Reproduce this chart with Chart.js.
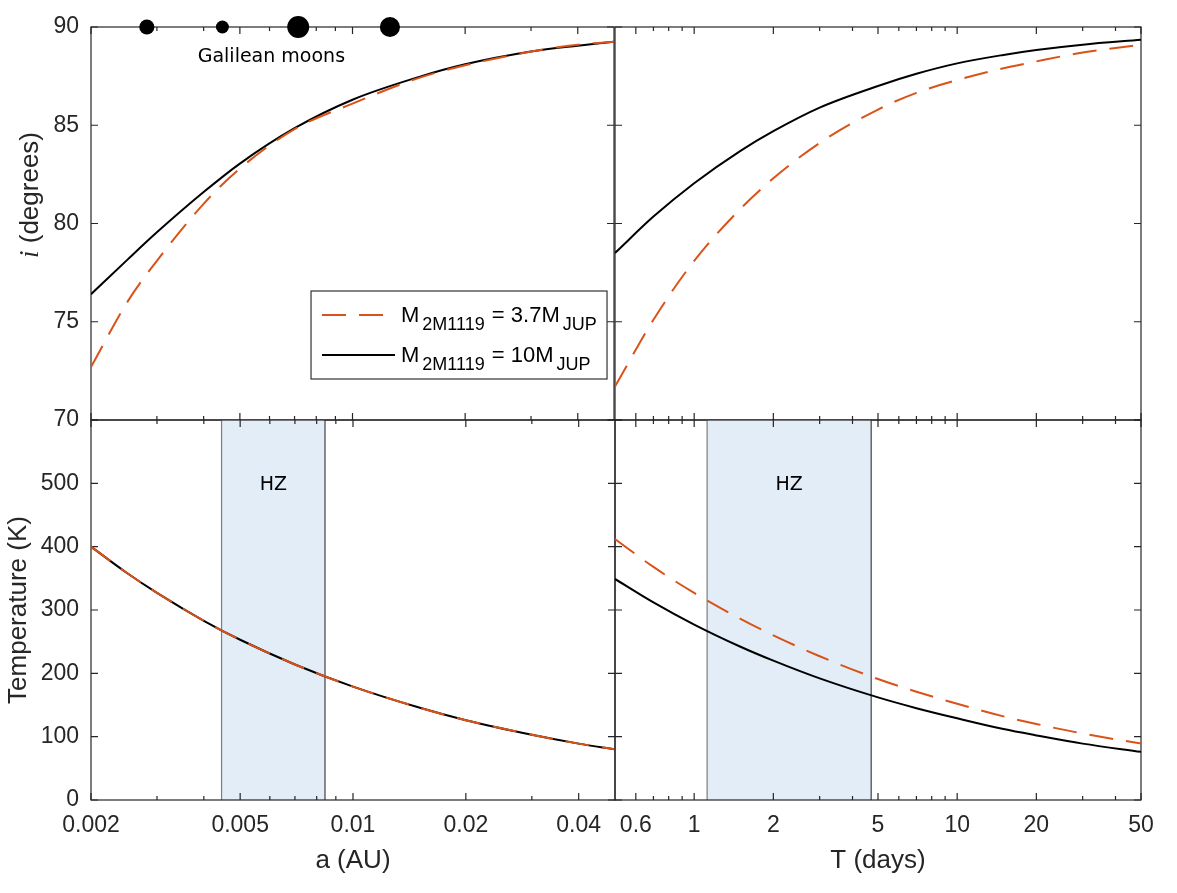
<!DOCTYPE html>
<html>
<head>
<meta charset="utf-8">
<title>2M1119 inclination and temperature</title>
<script src="https://cdn.jsdelivr.net/npm/chart.js@4.4.1/dist/chart.umd.min.js"></script>
<style>
  html, body { margin: 0; padding: 0; background: #fff; }
  #fig { position: relative; width: 1177px; height: 893px; overflow: hidden; }
  #fig canvas { position: absolute; }
</style>
</head>
<body>
<div id="fig">
  <canvas id="inc-a" width="625" height="450" style="left:0px;top:0px"></canvas>
  <canvas id="inc-t" width="572" height="430" style="left:605px;top:0px"></canvas>
  <canvas id="temp-a" width="625" height="503" style="left:0px;top:390px"></canvas>
  <canvas id="temp-t" width="572" height="503" style="left:605px;top:390px"></canvas>
</div>
<script>
// ---- datos ----
const aAU = [0.002, 0.0025, 0.003, 0.004, 0.005, 0.007, 0.01, 0.015, 0.02, 0.03, 0.04, 0.05];
const incA_37 = [72.7, 76.0, 78.1, 81.0, 82.8, 84.8, 86.1, 87.4, 88.05, 88.75, 89.1, 89.25];
const incA_10 = [76.4, 78.15, 79.55, 81.6, 83.05, 84.85, 86.3, 87.45, 88.1, 88.75, 89.05, 89.25];
const tempA_37 = [400, 358, 327, 283, 253, 214, 179, 146, 126, 103, 89, 80];
const tempA_10 = [400, 358, 327, 283, 253, 214, 179, 146, 126, 103, 89, 80];

const periodDays = [0.5, 0.7, 1, 1.5, 2, 3, 5, 7, 10, 15, 20, 30, 50];
const incT_37 = [71.7, 75.1, 78.1, 80.75, 82.3, 84.1, 85.8, 86.65, 87.3, 87.9, 88.25, 88.7, 89.1];
const incT_10 = [78.5, 80.35, 82.05, 83.7, 84.7, 85.9, 87.0, 87.62, 88.15, 88.58, 88.83, 89.1, 89.35];
const tempT_37 = [412, 368, 327, 286, 260, 227, 191, 171, 152, 132, 120, 105, 89];
const tempT_10 = [349, 312, 277, 242, 220, 192, 162, 145, 129, 112, 102, 89, 76];

// lunas galileanas (a en UA, radio en km)
const moonNames = ['Io', 'Europa', 'Ganymede', 'Callisto'];
const moonA = [0.00282, 0.00449, 0.00716, 0.01259];
const moonRadiusKm = [1822, 1561, 2634, 2410];

// zona habitable
const hzA = [0.00446, 0.00842];
const hzT = [1.12, 4.71];

// ticks
const aTickLabels = [0.002, 0.005, 0.01, 0.02, 0.04];
const aMinorTicks = [0.003, 0.004, 0.006, 0.007, 0.008, 0.009, 0.03];
const tTickLabels = [0.6, 1, 2, 5, 10, 20, 50];
const tMinorTicks = [0.7, 0.8, 0.9, 3, 4, 6, 7, 8, 9, 30, 40];
const incTicks = [70, 75, 80, 85, 90];
const tempTicks = [0, 100, 200, 300, 400, 500, 600];

const seriesLabels = ['M2M1119 = 3.7MJUP', 'M2M1119 = 10MJUP'];

// ---- estilos ----
const SANS = "'Liberation Sans', Arial, Helvetica, sans-serif";
const NOTE = "'DejaVu Sans', Verdana, sans-serif";
const AXIS = '#262626';
const RED = '#D95319';
const DASH = [24, 13];

function vline(ctx, px, y0, y1) {
    ctx.beginPath();
    ctx.moveTo(px, y0);
    ctx.lineTo(px, y1);
    ctx.stroke();
}

// Marco, ticks hacia dentro, banda HZ y anotaciones
const panelDecor = {
    id: 'panelDecor',
    beforeDatasetsDraw(chart, args, opts) {
        const { ctx, chartArea: area, scales: { x, y } } = chart;
        ctx.save();
        if (opts.band) {
            const x0 = x.getPixelForValue(opts.band[0]);
            const x1 = x.getPixelForValue(opts.band[1]);
            ctx.fillStyle = '#e3edf7';
            ctx.fillRect(x0, area.top, x1 - x0, area.bottom - area.top);
            ctx.lineWidth = 1.2;
            ctx.strokeStyle = '#7d7d7d';
            vline(ctx, x0, area.top, area.bottom);
            ctx.strokeStyle = '#404040';
            vline(ctx, x1, area.top, area.bottom);
        }
        ctx.strokeStyle = AXIS;
        ctx.lineWidth = 1.2;
        ctx.strokeRect(area.left, area.top, area.right - area.left, area.bottom - area.top);

        ctx.beginPath();
        const xTick = (v, len) => {
            const px = x.getPixelForValue(v);
            ctx.moveTo(px, area.top);
            ctx.lineTo(px, area.top + len);
            ctx.moveTo(px, area.bottom);
            ctx.lineTo(px, area.bottom - len);
        };
        const yTick = (v, len) => {
            const py = y.getPixelForValue(v);
            ctx.moveTo(area.left, py);
            ctx.lineTo(area.left + len, py);
            ctx.moveTo(area.right, py);
            ctx.lineTo(area.right - len, py);
        };
        (opts.xMajor || []).forEach(v => xTick(v, 7));
        (opts.xMinor || []).forEach(v => xTick(v, 4));
        (opts.yMajor || []).forEach(v => yTick(v, 7));
        ctx.stroke();
        ctx.restore();
    },
    afterDraw(chart, args, opts) {
        const { ctx, chartArea: area, scales: { x } } = chart;
        ctx.save();
        ctx.fillStyle = '#000';
        ctx.textAlign = 'center';
        ctx.textBaseline = 'middle';

        if (opts.band && opts.bandLabel) {
            const cx = (x.getPixelForValue(opts.band[0]) + x.getPixelForValue(opts.band[1])) / 2;
            ctx.font = '19px ' + NOTE;
            ctx.fillText(opts.bandLabel, cx, area.top + 65);
        }

        if (opts.moonLabel) {
            const first = x.getPixelForValue(moonA[0]);
            const last = x.getPixelForValue(moonA[moonA.length - 1]);
            ctx.font = '19px ' + NOTE;
            ctx.fillText(opts.moonLabel, (first + last) / 2 + 3, area.top + 30);
        }

        // titulo del eje y con la i en cursiva
        if (opts.richTitle) {
            const parts = [
                { t: 'i', f: 'italic 27px "Liberation Serif", "Times New Roman", serif' },
                { t: ' (degrees)', f: '26px ' + SANS }
            ];
            let total = 0;
            parts.forEach(p => { ctx.font = p.f; p.w = ctx.measureText(p.t).width; total += p.w; });
            ctx.translate(area.left - 60, area.top + 168);
            ctx.rotate(-Math.PI / 2);
            ctx.fillStyle = AXIS;
            ctx.textAlign = 'left';
            let pos = -total / 2;
            parts.forEach(p => { ctx.font = p.f; ctx.fillText(p.t, pos, 0); pos += p.w; });
            const dpr0 = chart.currentDevicePixelRatio || 1;
            ctx.setTransform(dpr0, 0, 0, dpr0, 0, 0);
        }

        // leyenda con subindices
        if (opts.legend) {
            const bw = 296, bh = 88;
            const bx = area.right - 7 - bw;
            const by = area.bottom - 129;
            ctx.fillStyle = '#fff';
            ctx.fillRect(bx, by, bw, bh);
            ctx.strokeStyle = '#333';
            ctx.lineWidth = 1.2;
            ctx.strokeRect(bx, by, bw, bh);

            opts.legend.forEach((item, i) => {
                const ly = by + 24 + i * 40;
                ctx.save();
                ctx.strokeStyle = item.color;
                ctx.lineWidth = 2;
                ctx.setLineDash(item.dash || []);
                ctx.beginPath();
                ctx.moveTo(bx + 11, ly);
                ctx.lineTo(bx + 84, ly);
                ctx.stroke();
                ctx.restore();

                let tx = bx + 90;
                ctx.fillStyle = '#000';
                ctx.textAlign = 'left';
                ctx.textBaseline = 'alphabetic';
                item.parts.forEach(([txt, sub]) => {
                    ctx.font = (sub ? '18px ' : '22px ') + SANS;
                    ctx.fillText(txt, tx, ly + (sub ? 15 : 7));
                    tx += ctx.measureText(txt).width + (sub ? 1 : 3);
                });
            });
        }
        ctx.restore();
    }
};

function xAxis(range, labels, showLabels, title) {
    return {
        type: 'logarithmic',
        min: range[0],
        max: range[1],
        bounds: 'data',
        display: showLabels,
        grid: { display: false, drawTicks: false },
        border: { display: false },
        ticks: {
            autoSkip: false,
            maxRotation: 0,
            padding: 12,
            color: AXIS,
            font: { family: SANS, size: 23 },
            callback: v => String(v)
        },
        afterBuildTicks: s => { s.ticks = labels.map(v => ({ value: v })); },
        afterFit: s => { s.height = showLabels ? 93 : 0; },
        title: {
            display: !!title,
            text: title || '',
            color: AXIS,
            font: { family: SANS, size: 26 },
            padding: { top: 0, bottom: 17 }
        }
    };
}

function yAxis(range, step, showLabels, title, hide) {
    return {
        type: 'linear',
        min: range[0],
        max: range[1],
        display: showLabels,
        grid: { display: false, drawTicks: false },
        border: { display: false },
        ticks: {
            stepSize: step,
            padding: 12,
            color: AXIS,
            font: { family: SANS, size: 23 },
            callback: v => (v === hide ? '' : v)
        },
        afterFit: s => { s.width = showLabels ? 91 : 0; },
        title: {
            display: !!title,
            text: title || '',
            color: AXIS,
            font: { family: SANS, size: 26 },
            padding: { top: 3, bottom: 0 }
        }
    };
}

function lineSet(label, xs, ys, color, dash) {
    return {
        type: 'line',
        label: label,
        data: xs.map((v, i) => ({ x: v, y: ys[i] })),
        borderColor: color,
        borderWidth: 2,
        borderDash: dash || [],
        pointRadius: 0,
        cubicInterpolationMode: 'monotone',
        fill: false
    };
}

function makePanel(id, datasets, scales, padding, decor) {
    return new Chart(document.getElementById(id), {
        type: 'line',
        data: { datasets: datasets },
        options: {
            responsive: false,
            animation: false,
            events: [],
            layout: { padding: padding },
            scales: scales,
            plugins: {
                legend: { display: false },
                tooltip: { enabled: false },
                panelDecor: decor
            }
        },
        plugins: [panelDecor]
    });
}

const aRange = [0.002, 0.05];
const tRange = [0.5, 50];

// inclinacion vs a
makePanel('inc-a', [
    {
        type: 'scatter',
        label: 'Galilean moons',
        data: moonA.map(a => ({ x: a, y: 90 })),
        pointRadius: moonRadiusKm.map(r => r / 240),
        backgroundColor: '#000',
        borderColor: '#000',
        borderWidth: 0,
        clip: false
    },
    lineSet(seriesLabels[0], aAU, incA_37, RED, DASH),
    lineSet(seriesLabels[1], aAU, incA_10, '#000')
], {
    x: xAxis(aRange, aTickLabels, false),
    y: yAxis([70, 90], 5, true, null, null)
}, { left: 0, top: 27, right: 10, bottom: 30 }, {
    xMajor: aTickLabels, xMinor: aMinorTicks, yMajor: incTicks,
    moonLabel: 'Galilean moons',
    richTitle: true,
    legend: [
        { color: RED, dash: DASH, parts: [['M', 0], ['2M1119', 1], [' = 3.7M', 0], ['JUP', 1]] },
        { color: '#000', parts: [['M', 0], ['2M1119', 1], [' = 10M', 0], ['JUP', 1]] }
    ]
});

// inclinacion vs T
makePanel('inc-t', [
    lineSet(seriesLabels[0], periodDays, incT_37, RED, DASH),
    lineSet(seriesLabels[1], periodDays, incT_10, '#000')
], {
    x: xAxis(tRange, tTickLabels, false),
    y: yAxis([70, 90], 5, false)
}, { left: 10, top: 27, right: 36, bottom: 10 }, {
    xMajor: tTickLabels, xMinor: tMinorTicks, yMajor: incTicks
});

// temperatura vs a
makePanel('temp-a', [
    lineSet(seriesLabels[0], aAU, tempA_37, RED, DASH),
    lineSet(seriesLabels[1], aAU, tempA_10, '#000')
], {
    x: xAxis(aRange, aTickLabels, true, 'a (AU)'),
    y: yAxis([0, 600], 100, true, 'Temperature (K)', 600)
}, { left: 0, top: 30, right: 10, bottom: 0 }, {
    xMajor: aTickLabels, xMinor: aMinorTicks, yMajor: tempTicks,
    band: hzA, bandLabel: 'HZ'
});

// temperatura vs T
makePanel('temp-t', [
    lineSet(seriesLabels[0], periodDays, tempT_37, RED, DASH),
    lineSet(seriesLabels[1], periodDays, tempT_10, '#000')
], {
    x: xAxis(tRange, tTickLabels, true, 'T (days)'),
    y: yAxis([0, 600], 100, false)
}, { left: 10, top: 30, right: 36, bottom: 0 }, {
    xMajor: tTickLabels, xMinor: tMinorTicks, yMajor: tempTicks,
    band: hzT, bandLabel: 'HZ'
});
</script>
</body>
</html>
